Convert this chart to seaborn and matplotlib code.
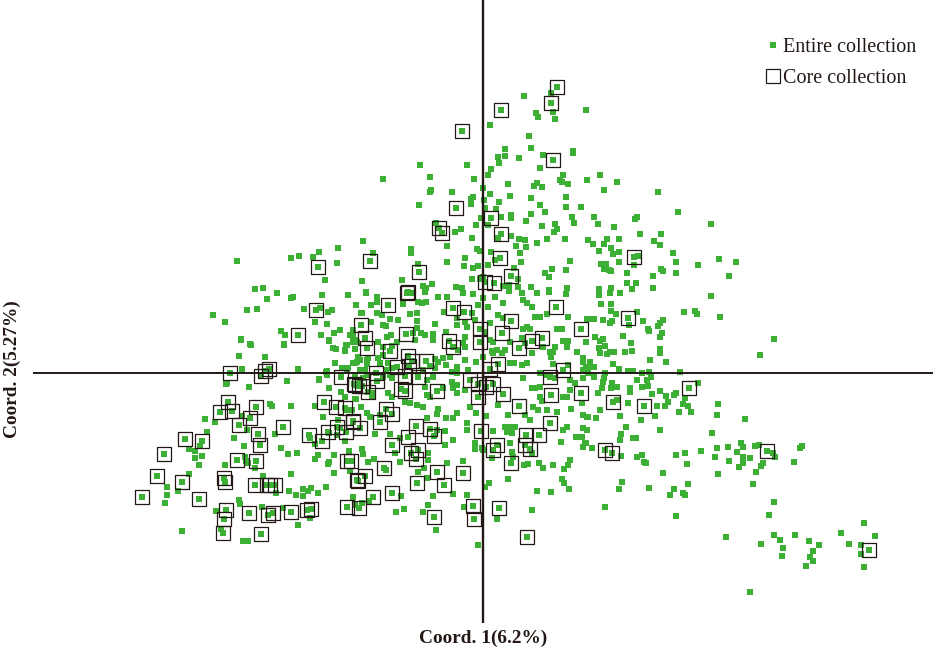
import matplotlib
matplotlib.use("Agg")
import matplotlib.pyplot as plt
import pandas as pd
import seaborn as sns
from matplotlib.lines import Line2D

# Values, in picture units; ORIGIN is where the two axes cross
ORIGIN = (483, 373)

core_points = [
(230,373),(261,376),(265,371),(269,369),(228,402),(220,412),(232,411),(256,407),(250,418),(239,425),(283,427),(258,434),
(260,445),(185,439),(202,441),(164,454),(237,460),(256,461),(157,476),(182,482),(224,478),(225,482),(142,497),(199,499),
(255,485),(267,485),(270,485),(275,485),(226,510),(224,519),(223,533),(249,513),(268,515),(273,513),(291,512),(307,510),
(311,509),(261,534),(347,507),(347,461),(309,435),(322,441),(328,432),(346,432),(337,427),(353,421),(324,402),(336,407),
(345,408),(341,377),(354,384),(359,386),(357,480),
(388,305),(407,293),(453,308),(464,312),(556,307),(581,329),(511,321),(480,329),(361,325),(365,338),(367,348),(406,334),
(390,351),(449,341),(453,347),(480,342),(502,333),(519,348),(532,341),(542,338),(408,356),(412,361),(426,361),(397,367),
(409,366),(405,376),(418,377),(376,373),(377,381),(368,392),(362,386),(355,385),(401,389),(405,391),(437,391),(490,369),
(498,364),(550,377),(563,370),(551,395),(581,393),(470,380),(478,384),(486,387),(493,384),(478,397),(503,394),(519,406),
(386,409),(392,414),(380,422),(360,428),(353,422),(416,426),(430,429),(434,436),(408,437),(481,431),(550,423),(539,435),
(526,435),(525,445),(530,449),(497,445),(493,450),(392,445),(411,453),(418,450),(416,459),(384,468),(365,476),(358,481),
(437,472),(463,473),(511,463),(417,483),(444,485),(392,493),(373,497),(351,461),
(557,87),(551,103),(501,110),(462,131),(553,160),(456,208),(439,228),(442,233),(501,234),(491,218),(500,258),(485,282),
(511,276),(494,283),(419,272),(370,261),(318,267),(634,257),(408,292),(316,310),(298,335),(628,318),(689,388),(644,406),
(613,402),(605,450),(612,453),(767,451),(869,550),(527,537),(499,508),(473,506),(474,519),(434,517),(359,508),
]

green_top = [
(524,96),(551,93),(536,113),(538,117),(553,112),(555,119),(586,110),(490,125),(529,136),(531,148),(505,149),(498,157),
(505,156),(499,163),(519,158),(543,155),(573,151),(573,153),(420,165),(467,165),(491,169),(488,175),(540,168),(383,179),
(430,177),(474,179),(563,175),(560,180),(562,182),(568,184),(587,180),(600,175),(604,190),(508,184),(537,183),(534,186),
(542,187),(431,190),(430,192),(452,192),(483,188),(490,194),(510,196),(473,197),(471,199),(471,204),(484,200),(499,202),
(531,198),(566,197),(419,205),(540,205),(566,207),(581,207),(485,208),(496,209),(545,212),(531,214),(501,217),(511,215),
(511,218),(481,218),(572,217),(594,217),(574,223),(598,224),(526,221),(555,224),(542,226),(476,225),(488,225),(557,229),
(554,232),(436,223),(461,229),(455,232),(472,238),(511,236),(498,238),(519,239),(525,240),(547,239),(565,239),(588,240),
(593,244),(607,239),(604,244),(599,251),(537,243),(516,246),(526,247),(447,246),(477,249),(480,251),(491,252),(520,253),
(411,249),(411,253),(373,253),(465,258),(447,262),(418,264),(464,266),(473,268),(478,266),(488,265),(495,260),(521,262),
(570,261),(552,269),(545,273),(566,270),(549,277),(601,264),(606,264),(604,269),(609,270),(514,268),(402,280),(472,279),
(480,279),(483,277),(432,284),(423,286),(426,288),(456,287),(462,288),(509,285),(518,279),(518,287),(531,287),(567,288),
(599,289),(503,286),(549,290),
]

green_right = [
(617,182),(658,192),(678,212),(711,224),(637,217),(635,219),(614,227),(640,234),(661,234),(654,241),(660,245),(619,239),
(611,248),(613,254),(619,252),(673,253),(619,262),(638,256),(634,265),(676,262),(719,259),(736,262),(698,265),(611,271),
(627,273),(661,269),(663,271),(676,273),(653,276),(729,276),(627,283),(636,283),(632,289),(653,288),(611,288),(599,295),
(610,293),(620,293),(711,296),(601,304),(611,304),(611,311),(684,312),(695,311),(697,314),(720,317),(637,312),(616,314),
(588,319),(594,319),(603,320),(612,321),(610,323),(629,325),(643,321),(663,320),(660,323),(658,326),(648,329),(649,331),
(662,333),(660,337),(595,337),(603,339),(600,341),(623,336),(631,343),(605,346),(599,348),(774,339),(660,349),(660,353),
(625,352),(632,351),(614,352),(610,352),(600,353),(607,354),(760,355),
]

green_lower_right = [
(650,360),(666,362),(613,364),(619,369),(590,362),(594,367),(586,368),(628,371),(633,371),(642,373),(649,372),(680,372),
(605,373),(588,373),(594,377),(604,378),(603,382),(637,380),(647,380),(651,377),(648,386),(642,387),(630,388),(630,392),
(612,383),(611,388),(617,387),(602,388),(598,393),(698,383),(660,391),(652,394),(666,396),(676,393),(674,395),(685,398),
(668,402),(628,403),(617,400),(683,404),(688,406),(657,406),(665,406),(718,404),(600,410),(679,412),(691,412),(620,416),
(655,416),(717,415),(588,417),(596,418),(641,420),(745,419),(626,427),(587,430),(660,430),(621,434),(712,433),(620,440),
(633,438),(636,438),(586,443),(592,448),(741,443),(743,447),(728,447),(717,448),(755,446),(759,445),(802,446),(800,448),
(701,451),(737,452),(685,453),(676,455),(621,456),(637,457),(642,455),(715,457),(729,461),(743,457),(750,458),(743,463),
(739,467),(775,457),(773,453),(794,462),(763,463),(761,466),(644,462),(646,463),(687,464),(663,473),(718,474),(756,472),
(622,482),(619,489),(649,488),(688,484),(753,484),(674,489),(670,495),(683,493),(685,495),(774,502),(605,507),(676,516),
(769,515),(864,523),(726,537),(774,535),(780,540),(795,535),(841,533),(875,536),(761,544),(809,541),(819,545),(849,544),
(861,545),(783,548),(813,551),(861,554),(782,556),(810,557),(813,561),(806,566),(864,567),(750,592),
]

green_center = [
(366,293),(377,297),(356,305),(371,305),(377,302),(403,304),(413,293),(425,292),(438,297),(447,297),(463,293),(473,294),
(483,298),(495,297),(509,291),(522,293),(523,300),(537,293),(549,292),(566,294),(418,302),(422,303),(426,302),(503,303),
(527,303),(532,307),(488,307),(478,305),(362,313),(377,313),(382,315),(390,319),(398,320),(410,314),(417,313),(417,321),
(444,312),(457,318),(465,322),(472,313),(475,320),(498,315),(503,318),(490,323),(535,317),(540,317),(547,314),(568,317),
(587,319),(371,322),(383,325),(386,326),(391,335),(417,328),(435,324),(457,325),(467,327),(485,332),(527,327),(523,329),
(530,329),(557,329),(562,329),(353,333),(350,335),(387,337),(413,333),(421,333),(425,335),(433,334),(446,332),(355,340),
(353,342),(378,342),(397,342),(415,340),(433,340),(465,337),(463,343),(490,340),(493,342),(510,342),(505,350),(522,338),
(525,343),(563,341),(568,341),(567,347),(586,342),(555,347),(543,347),(550,352),(458,350),(465,347),(497,350),(492,351),
(502,353),(532,353),(577,352),(383,355),(383,347),(392,346),(355,349),(357,362),(353,363),(360,360),(368,358),(367,364),
(378,358),(380,363),(388,363),(435,359),(443,358),(438,362),(450,357),(446,365),(465,360),(476,362),(483,357),(493,353),
(514,363),(522,365),(527,363),(553,352),(551,357),(553,364),(583,358),(583,362),(568,365),(360,370),(365,370),(367,375),
(386,370),(392,368),(390,375),(435,368),(430,366),(423,370),(452,372),(457,367),(457,373),(468,370),(510,363),(355,377),
(360,380),(363,378),(383,377),(392,378),(433,377),(427,380),(425,387),(443,388),(452,382),(457,385),(453,388),(465,390),
(523,378),(532,388),(535,388),(540,373),(547,375),(555,378),(570,380),(575,383),(583,378),(583,370),(588,367),(540,397),
(542,401),(563,397),(567,397),(570,390),(582,403),(498,405),(540,387),(355,399),(373,393),(372,397),(388,393),(392,397),
(405,402),(410,403),(417,405),(423,407),(427,395),(430,397),(457,393),(470,407),(508,415),(486,416),(476,413),(438,409),
(437,414),(533,407),(538,410),(547,410),(557,412),(571,409),(583,415),(587,417),(525,415),(530,420),(361,407),(367,413),
(370,417),(380,415),(427,418),(457,413),(453,418),(446,418),(467,423),(467,430),(505,427),(510,427),(515,427),(507,432),
(512,433),(493,431),(375,434),(390,434),(437,430),(445,431),(567,427),(563,430),(583,428),(576,437),(582,437),(587,430),
(400,438),(453,440),(445,445),(475,443),(510,443),(561,442),(585,443),(583,447),(483,450),(475,449),(482,448),(362,449),
(363,454),(395,453),(428,453),(428,460),(400,462),(368,462),(374,459),(447,463),(463,461),(492,458),(512,452),(513,457),
(532,453),(539,463),(543,468),(524,465),(528,464),(553,465),(570,460),(568,465),(564,469),(418,472),(424,468),(386,470),
(427,478),(508,479),(562,479),(564,483),(569,489),(489,483),(485,487),(537,491),(551,492),(453,494),(467,495),(433,496),
(401,496),(353,497),(362,503),(355,505),(369,501),(396,512),(404,509),(428,505),(423,512),(464,507),(532,510),(497,519),
(436,530),(478,545),
]

green_left = [
(241,340),(251,345),(284,345),(239,356),(265,357),(329,341),(333,348),(345,350),(347,345),(357,342),(358,358),(355,363),
(335,363),(326,372),(342,368),(348,368),(242,369),(298,369),(327,375),(287,381),(319,379),(226,384),(249,387),(329,388),
(341,392),(345,397),(356,399),(270,404),(272,406),(291,406),(315,406),(242,416),(205,419),(215,422),(323,417),(338,420),
(347,410),(352,410),(340,428),(207,432),(247,430),(275,434),(234,438),(337,435),(329,433),(345,441),(310,438),(315,444),
(244,446),(200,446),(189,449),(195,451),(195,458),(202,456),(281,448),(288,454),(297,453),(349,451),(318,455),(315,459),
(334,455),(245,457),(246,461),(248,463),(199,465),(225,465),(329,462),(328,464),(255,468),(189,474),(334,473),(291,474),
(350,471),(263,476),(167,487),(167,495),(178,491),(165,503),(289,491),(303,489),(311,488),(308,491),(326,487),(318,493),
(296,495),(303,496),(276,493),(353,497),(239,500),(240,504),(262,507),(283,508),(216,511),(355,504),(310,518),(298,525),
(182,531),(221,529),(243,541),(248,541),
(363,241),(338,248),(319,252),(313,257),(291,258),(299,256),(237,261),(337,263),(325,280),(362,281),(255,289),(263,288),
(277,293),(267,299),(291,298),(293,297),(322,295),(348,295),(366,292),(356,305),(371,305),(304,309),(257,309),(247,310),
(213,315),(225,322),(320,308),(328,312),(332,310),(361,313),(315,322),(327,324),(281,331),(285,335),(321,335),(334,333),
(340,330),(353,330),(353,336),(329,340),(241,339),(250,344),(284,344),(346,345),(333,348),(336,349),(345,351),(358,357),
(335,363),(367,360),(327,371),(327,374),(347,369),(319,380),(227,383),
]

ENTIRE_LABEL = "Entire collection"
CORE_LABEL = "Core collection"
X_LABEL = "Coord. 1(6.2%)"
Y_LABEL = "Coord. 2(5.27%)"

GREEN = "#3cb034"
INK = "#231815"

def table(points):
    df = pd.DataFrame(points, columns=["px", "py"])
    df["coord1"] = df["px"] - ORIGIN[0]
    df["coord2"] = ORIGIN[1] - df["py"]
    return df

sns.set_theme(style="white")
plt.rcParams["font.family"] = ["Liberation Serif", "DejaVu Serif"]

core = table(core_points)
entire = table(core_points + green_top + green_right + green_lower_right + green_center + green_left)

fig = plt.figure(figsize=(9.33, 6.5), dpi=100)
ax = fig.add_axes([0, 0, 1, 1])
ax.set_xlim(-483, 450)
ax.set_ylim(-277, 373)
ax.axis("off")

sns.scatterplot(data=entire, x="coord1", y="coord2", marker="s", s=22, color=GREEN,
                linewidth=0, ax=ax, legend=False, zorder=2)
sns.scatterplot(data=core, x="coord1", y="coord2", marker="s", s=105, facecolor="none",
                edgecolor=INK, linewidth=0.9, ax=ax, legend=False, zorder=3)

ax.hlines(0, -450, 450, color=INK, linewidth=1.4, zorder=4)
ax.vlines(0, -250, 373, color=INK, linewidth=1.7, zorder=4)

handles = [
    Line2D([], [], marker="s", linestyle="none", markersize=4.6, markerfacecolor=GREEN,
           markeredgewidth=0, label=ENTIRE_LABEL),
    Line2D([], [], marker="s", linestyle="none", markersize=9.5, markerfacecolor="none",
           markeredgecolor=INK, markeredgewidth=0.9, label=CORE_LABEL),
]
fig.legend(handles=handles, loc="upper left", bbox_to_anchor=(762.5 / 933, 1 - 37.5 / 650), frameon=False,
           fontsize=14.5, labelcolor=INK, borderpad=0, borderaxespad=0, handlelength=1.0,
           handletextpad=0.0, labelspacing=0.6)

fig.text(483 / 933, 1 - 638 / 650, X_LABEL, ha="center", va="center", fontsize=13.9,
         fontweight="bold", color=INK)
fig.text(12 / 933, 1 - 369 / 650, Y_LABEL, ha="center", va="center", rotation=90, fontsize=13.9,
         fontweight="bold", color=INK)

fig.savefig("out.png", dpi=100)
